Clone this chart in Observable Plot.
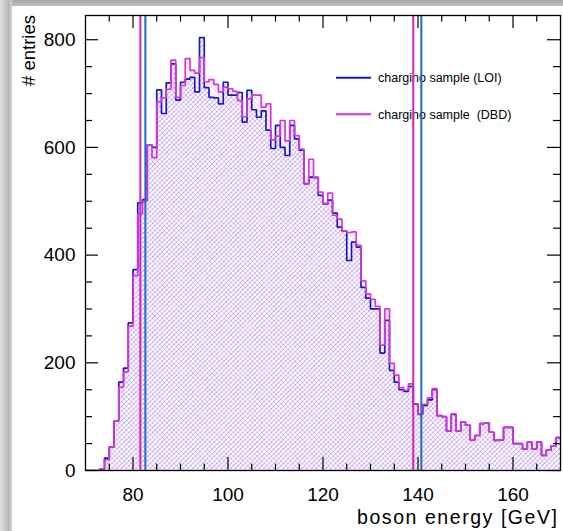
<!DOCTYPE html>
<html><head><meta charset="utf-8">
<script src="https://cdn.jsdelivr.net/npm/d3@7"></script>
<script src="https://cdn.jsdelivr.net/npm/@observablehq/plot@0.6"></script>
<style>
html,body{margin:0;padding:0;background:#fff;}
#wrap{position:relative;width:563px;height:531px;overflow:hidden;background:#fff;}
#topbar{position:absolute;left:0;top:0;width:563px;height:6px;background:linear-gradient(#a9a9a9,#bdbdbd);}
#leftbar{position:absolute;left:0;top:0;width:12px;height:531px;background:linear-gradient(90deg,#e2e2e2,#cbcbcb 35%,#b6b6b6 75%,#d8d8d8);}
</style></head>
<body><div id="wrap"></div>
<script>
// ---- data ----
const binStart = 70, binWidth = 1;   // 1 GeV bins from 70 to 170
const loi = [0,0,0,3,23,44,92,164,190,274,
  373,497,503,605,600,707,663,720,755,688,
  721,727,730,703,804,711,693,692,681,721,
  697,697,702,647,706,670,656,668,632,598,
  641,600,585,641,616,595,533,545,544,511,
  495,502,478,452,445,390,424,415,340,320,
  300,300,218,279,186,164,150,147,156,123,
  104,121,131,150,102,100,73,104,73,90,
  84,57,65,87,88,71,56,57,80,80,
  50,50,40,53,40,53,28,38,46,61];
const dbd = [0,0,0,3,20,44,92,155,183,268,
  362,477,500,605,581,685,692,708,762,693,
  715,765,743,738,767,722,726,717,703,712,
  709,704,687,657,690,697,697,675,681,614,
  621,650,612,650,622,597,532,578,545,517,
  496,515,474,467,445,442,443,418,352,328,
  318,305,233,300,199,177,154,149,161,124,
  105,123,135,152,102,100,73,105,73,90,
  84,57,65,87,88,71,56,57,80,80,
  50,50,40,53,40,53,28,38,46,61];
const xTicks = [80,100,120,140,160];
const xMinor = [75,85,90,95,105,110,115,125,130,135,145,150,155,165];
const yTicks = [0,200,400,600,800];
const yMinor = [50,100,150,250,300,350,450,500,550,650,700,750];
const cutLoi = [82.6, 140.7];
const cutDbd = [81.55, 139.0];
const legendLabels = ["chargino sample (LOI)", "chargino sample  (DBD)"];
const xLabel = "boson energy [GeV]";
const yLabel = "# entries";

// ---- style ----
const FONT = "'Liberation Sans', Arial, Helvetica, sans-serif";
const BLUE = "#1717c9", MAG = "#d835d8";
const W = 563, H = 531, mL = 85, mR = 3, mT = 15, mB = 61;
const fW = W - mL - mR, fH = H - mT - mB;

function bins(vals){ return vals.map((v,i)=>({x1: binStart + i*binWidth, x2: binStart + (i+1)*binWidth, v})); }
function steps(vals){
  const pts = vals.map((v,i)=>({x: binStart + i*binWidth, v}));
  pts.push({x: binStart + vals.length*binWidth, v: vals[vals.length-1]});
  return pts;
}

const plot = Plot.plot({
  width: W, height: H,
  marginLeft: mL, marginRight: mR, marginTop: mT, marginBottom: mB,
  style: {fontFamily: FONT, fontSize: "19px", background: "transparent", color: "black", overflow: "visible"},
  x: {domain: [70,170], ticks: xTicks, tickSize: 0, tickPadding: 17, label: null},
  y: {domain: [0,845], ticks: yTicks, tickSize: 0, tickPadding: 10, label: null},
  marks: [
    Plot.rectY(bins(dbd), {x1:"x1", x2:"x2", y:"v", fill:"url(#hatchDbd)", clip:true}),
    Plot.rectY(bins(loi), {x1:"x1", x2:"x2", y:"v", fill:"url(#hatchLoi)", clip:true}),
    Plot.line(steps(loi), {x:"x", y:"v", curve:"step-after", stroke: BLUE, strokeWidth: 1.7, strokeLinejoin:"miter", clip:true}),
    Plot.line(steps(dbd), {x:"x", y:"v", curve:"step-after", stroke: MAG, strokeWidth: 1.7, strokeLinejoin:"miter", clip:true}),
    Plot.ruleX(cutLoi, {x: d=>d, stroke:"#1e6cc4", strokeWidth: 2}),
    Plot.ruleX(cutDbd, {x: d=>d, stroke:"#cc22cc", strokeWidth: 2}),
    Plot.frame({stroke:"black", strokeWidth: 1.3}),
    // bottom & top ticks
    Plot.tickX(xTicks, {x: d=>d, insetTop: fH-13, stroke:"black", strokeWidth: 1.2}),
    Plot.tickX(xMinor, {x: d=>d, insetTop: fH-6.5, stroke:"black", strokeWidth: 1.2}),
    Plot.tickX(xTicks, {x: d=>d, insetBottom: fH-13, stroke:"black", strokeWidth: 1.2}),
    Plot.tickX(xMinor, {x: d=>d, insetBottom: fH-6.5, stroke:"black", strokeWidth: 1.2}),
    // left & right ticks
    Plot.tickY(yTicks, {y: d=>d, insetRight: fW-13, stroke:"black", strokeWidth: 1.2}),
    Plot.tickY(yMinor, {y: d=>d, insetRight: fW-7, stroke:"black", strokeWidth: 1.2}),
    Plot.tickY(yTicks, {y: d=>d, insetLeft: fW-13, stroke:"black", strokeWidth: 1.2}),
    Plot.tickY(yMinor, {y: d=>d, insetLeft: fW-7, stroke:"black", strokeWidth: 1.2})
  ]
});

const svg = d3.select(plot);
const defs = svg.insert("defs", ":first-child");
function hatch(id, color, angle, sw){
  const p = defs.append("pattern").attr("id", id).attr("patternUnits","userSpaceOnUse")
    .attr("width", 3.36).attr("height", 3.36).attr("patternTransform", `rotate(${angle})`);
  p.append("line").attr("x1",0).attr("y1",-1).attr("x2",0).attr("y2",5)
    .attr("stroke", color).attr("stroke-width", sw);
}
hatch("hatchLoi", "#5050e4", 45, 0.7);
hatch("hatchDbd", "#e66ee6", -45, 0.75);

// legend (inserted beneath the vertical cut lines)
const legend = document.createElementNS("http://www.w3.org/2000/svg", "g");
const lg = d3.select(legend).attr("font-family", FONT).attr("font-size", "12.5px").attr("text-anchor","start");
const legColors = [BLUE, MAG];
const legY = [77.7, 114.3];
legendLabels.forEach((t,i)=>{
  lg.append("line").attr("x1",336).attr("x2",371).attr("y1",legY[i]).attr("y2",legY[i])
    .attr("stroke", legColors[i]).attr("stroke-width", 2);
  lg.append("text").attr("x",378).attr("y",legY[i]+4.5).attr("fill","black").attr("text-anchor","start")
    .style("white-space","pre").attr("xml:space","preserve").text(t);
});
const ruleG = plot.querySelector('g[aria-label="rule"]');
if (ruleG) plot.insertBefore(legend, ruleG); else plot.appendChild(legend);

// axis titles
svg.append("text").attr("x", 557).attr("y", 524).attr("text-anchor","end")
  .attr("font-family", FONT).attr("font-size","19.5px").attr("fill","black")
  .attr("textLength", 200).attr("lengthAdjust","spacing").text(xLabel);
svg.append("text").attr("transform","translate(35,15) rotate(-90)").attr("text-anchor","end")
  .attr("font-family", FONT).attr("font-size","18.5px").attr("fill","black").text(yLabel);

const wrap = document.getElementById("wrap");
wrap.appendChild(plot);
const tb = document.createElement("div"); tb.id = "topbar"; wrap.appendChild(tb);
const lb = document.createElement("div"); lb.id = "leftbar"; wrap.appendChild(lb);
</script>
</body></html>
